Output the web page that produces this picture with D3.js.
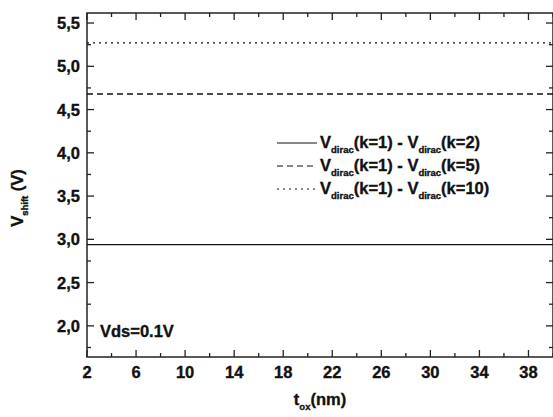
<!DOCTYPE html>
<html>
<head>
<meta charset="utf-8">
<script src="https://cdn.jsdelivr.net/npm/d3@7"></script>
<style>
  body { margin: 0; background: #fff; }
  svg text { font-family: "Liberation Sans", Arial, sans-serif; font-weight: bold; fill: #111; stroke: #111; stroke-width: 0.35; }
</style>
</head>
<body>
<div id="chart"></div>
<script>
// thickness range (nm) and the three shifts (V), constant over t_ox
var tox = [2, 40];
var series_names = ["k=2", "k=5", "k=10"];
var vshift = [2.94, 4.68, 5.27];
var dash_styles = ["none", "6,4", "2,4"];
var x_ticks = [2, 6, 10, 14, 18, 22, 26, 30, 34, 38];
var y_ticks = [2.0, 2.5, 3.0, 3.5, 4.0, 4.5, 5.0, 5.5];

const W = 553, H = 417;
const margin = {top: 13, right: 0, bottom: 60, left: 87};

var svg = d3.select("#chart").append("svg")
    .attr("width", W)
    .attr("height", H);

var x = d3.scaleLinear().domain([2, 40]).range([margin.left, W - margin.right]);
var y = d3.scaleLinear().domain([1.64, 5.616]).range([H - margin.bottom, margin.top]);

var minor_x = d3.range(2, 40.01, 2);
var minor_y = d3.range(1.75, 5.6, 0.25);

function fmt(v) { return d3.format(".1f")(v).replace(".", ","); }

// ticks, all pointing inward
var ticks = svg.append("g").attr("stroke", "#222").attr("stroke-width", 1.3);
minor_x.forEach(function (v) {
    var len = (v % 4 == 2) ? 7 : 4;
    ticks.append("line").attr("x1", x(v)).attr("x2", x(v))
        .attr("y1", y.range()[0]).attr("y2", y.range()[0] - len);
    ticks.append("line").attr("x1", x(v)).attr("x2", x(v))
        .attr("y1", y.range()[1]).attr("y2", y.range()[1] + len);
});
minor_y.forEach(function (v) {
    var major = Math.abs(v * 2 - Math.round(v * 2)) < 1e-6;
    var len = major ? 7 : 4;
    ticks.append("line").attr("y1", y(v)).attr("y2", y(v))
        .attr("x1", x.range()[0]).attr("x2", x.range()[0] + len);
    ticks.append("line").attr("y1", y(v)).attr("y2", y(v))
        .attr("x1", x.range()[1]).attr("x2", x.range()[1] - len);
});

// frame
svg.append("rect")
    .attr("x", x.range()[0]).attr("y", y.range()[1])
    .attr("width", x.range()[1] - x.range()[0])
    .attr("height", y.range()[0] - y.range()[1])
    .attr("fill", "none").attr("stroke", "#222").attr("stroke-width", 1.5);

// tick labels
svg.selectAll(".xl").data(x_ticks).enter().append("text")
    .attr("x", function (d) { return x(d); })
    .attr("y", 378)
    .attr("text-anchor", "middle")
    .attr("font-size", 16.5)
    .text(function (d) { return d; });

svg.selectAll(".yl").data(y_ticks).enter().append("text")
    .attr("x", 80)
    .attr("y", function (d) { return y(d) + 6; })
    .attr("text-anchor", "end")
    .attr("font-size", 16.5)
    .text(fmt);

// data lines
var line = d3.line()
    .x(function (d) { return x(d[0]); })
    .y(function (d) { return y(d[1]); });

vshift.forEach(function (v, i) {
    svg.append("path")
        .attr("d", line(tox.map(function (t) { return [t, v]; })))
        .attr("fill", "none")
        .attr("stroke", "#111")
        .attr("stroke-width", 1.3)
        .attr("stroke-dasharray", dash_styles[i]);
});

// legend
var leg = svg.append("g").attr("transform", "translate(277,143)");
series_names.forEach(function (name, i) {
    var row = leg.append("g").attr("transform", "translate(0," + (i * 23) + ")");
    row.append("line").attr("x1", 0).attr("x2", 40).attr("y1", 0).attr("y2", 0)
        .attr("stroke", "#111").attr("stroke-width", 1.2)
        .attr("stroke-dasharray", dash_styles[i]);
    var t = row.append("text").attr("x", 43).attr("y", 5).attr("font-size", 16.5);
    t.append("tspan").text("V");
    t.append("tspan").attr("font-size", 9.5).attr("dy", 5).text("dirac");
    t.append("tspan").attr("dy", -5).text("(k=1) - V");
    t.append("tspan").attr("font-size", 9.5).attr("dy", 5).text("dirac");
    t.append("tspan").attr("dy", -5).text("(" + name + ")");
});

svg.append("text")
    .attr("x", 100).attr("y", 337)
    .attr("font-size", 16.5)
    .text("Vds=0.1V");

// axis titles
var xt = svg.append("text")
    .attr("x", 320).attr("y", 405)
    .attr("text-anchor", "middle")
    .attr("font-size", 16.5);
xt.append("tspan").text("t");
xt.append("tspan").attr("font-size", 9.5).attr("dy", 5).text("ox");
xt.append("tspan").attr("dy", -5).text("(nm)");

var yt = svg.append("text")
    .attr("transform", "translate(23,198) rotate(-90)")
    .attr("text-anchor", "middle")
    .attr("font-size", 16.5);
yt.append("tspan").text("V");
yt.append("tspan").attr("font-size", 9.5).attr("dy", 5).text("shift");
yt.append("tspan").attr("dy", -5).text(" (V)");
</script>
</body>
</html>
